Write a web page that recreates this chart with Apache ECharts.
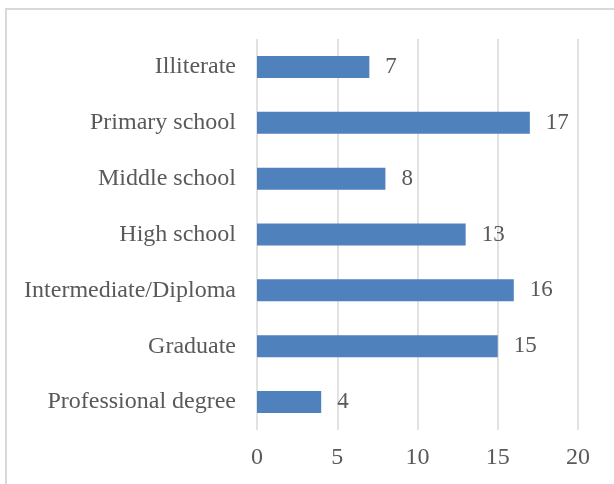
<!DOCTYPE html>
<html>
<head>
<meta charset="utf-8">
<style>
  html, body { margin: 0; padding: 0; background: #ffffff; }
  #chart { width: 614px; height: 484px; }
</style>
<script src="https://cdn.jsdelivr.net/npm/echarts@6/dist/echarts.min.js"></script>
</head>
<body>
<div id="chart"></div>
<script>
// Education level of respondents (counts)
const categories = [
  'Illiterate',
  'Primary school',
  'Middle school',
  'High school',
  'Intermediate/Diploma',
  'Graduate',
  'Professional degree'
];
const counts = [7, 17, 8, 13, 16, 15, 4];
const xTicks = [0, 5, 10, 15, 20];

const textColor = '#595959';
const fontFamily = '"Liberation Serif", "Times New Roman", serif';

const chart = echarts.init(document.getElementById('chart'), null, { renderer: 'canvas' });

chart.setOption({
  animation: false,
  backgroundColor: '#ffffff',
  graphic: [{
    type: 'rect',
    shape: { x: 6, y: 9, width: 700, height: 600 },
    style: { fill: 'none', stroke: '#d9d9d9', lineWidth: 2 },
    silent: true
  }],
  grid: { left: 257, right: 36, top: 39, bottom: 54, containLabel: false },
  xAxis: {
    type: 'value',
    min: xTicks[0],
    max: xTicks[xTicks.length - 1],
    interval: xTicks[1] - xTicks[0],
    axisLine: { show: false },
    axisTick: { show: false },
    splitLine: { show: true, lineStyle: { color: '#d9d9d9', width: 1.5 } },
    axisLabel: {
      color: textColor,
      fontFamily: fontFamily,
      fontSize: 24,
      margin: 16
    }
  },
  yAxis: {
    type: 'category',
    data: categories,
    inverse: true,
    axisLine: { show: false },
    axisTick: { show: false },
    splitLine: { show: false },
    axisLabel: {
      color: textColor,
      fontFamily: fontFamily,
      fontSize: 24,
      margin: 21
    }
  },
  series: [{
    type: 'bar',
    data: counts,
    barWidth: 22,
    itemStyle: { color: '#4f81bd' },
    label: {
      show: true,
      position: 'right',
      distance: 16,
      color: textColor,
      fontFamily: fontFamily,
      fontSize: 23
    }
  }]
});
</script>
</body>
</html>
